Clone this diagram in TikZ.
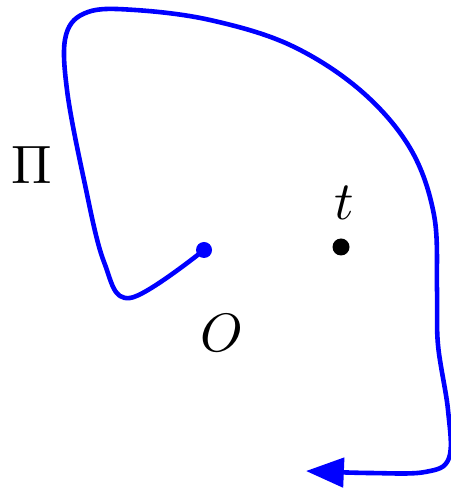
\documentclass[tikz,border=0pt]{standalone}
\usetikzlibrary{arrows.meta}
\begin{document}
\begin{tikzpicture}[x=0.185pt,y=-0.185pt,
  pathline/.style={blue,line width=0.85pt,line cap=round,line join=round},
  lbl/.style={inner sep=0pt}]
\useasboundingbox (0,0) rectangle (450,488);
\coordinate (O) at (204,250);
\coordinate (T) at (341,247);
\coordinate (E) at (306,471);
\draw[pathline,-{Triangle[length=7pt,width=5.4pt]}] plot[smooth,tension=0.6] coordinates {
 (O) (130,298) (104,262) (84,180) (67,90) (66,35) (88,12) (135,10) (210,20) (290,45) (360,90) (410,148) (434,215) (437,290) (438,345) (448,410) (449,458) (425,472) (370,473) (E)};
\fill[blue] (O) circle (8);
\fill[black] (T) circle (8.5);
\node[lbl] (tl) at (344,203) {$t$};
\node[lbl] (ol) at (222,333) {$O$};
\node[lbl] (pl) at (32,165) {$\Pi$};
\end{tikzpicture}
\end{document}
